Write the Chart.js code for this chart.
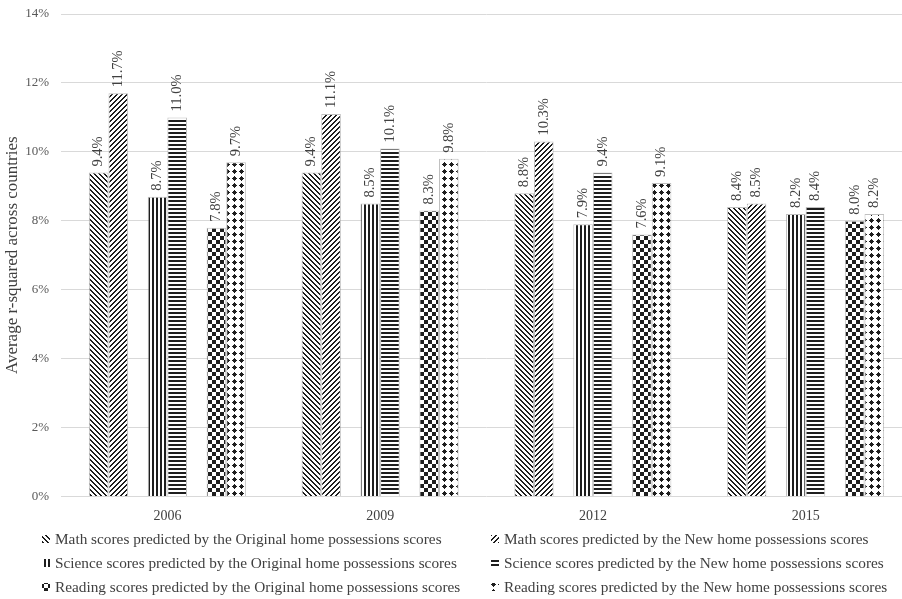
<!DOCTYPE html>
<html>
<head>
<meta charset="utf-8">
<script src="https://cdn.jsdelivr.net/npm/chart.js@4.4.1/dist/chart.umd.min.js"></script>
<style>
  html, body { margin: 0; padding: 0; background: #fff; overflow: hidden; width: 902px; height: 599px; }
  canvas { display: block; }
</style>
</head>
<body>
<canvas id="chart" width="912" height="599"></canvas>
<script>
// PISA cycles on the category axis
const years = ['2006', '2009', '2012', '2015'];

// Average r-squared (%) per cycle
const mathOriginal    = [9.4, 9.4, 8.8, 8.4];
const mathNew         = [11.7, 11.1, 10.3, 8.5];
const scienceOriginal = [8.7, 8.5, 7.9, 8.2];
const scienceNew      = [11.0, 10.1, 9.4, 8.4];
const readingOriginal = [7.8, 8.3, 7.6, 8.0];
const readingNew      = [9.7, 9.8, 9.1, 8.2];

// Value axis ticks (%)
const yTickValues = [0, 2, 4, 6, 8, 10, 12, 14];

const seriesNames = [
  'Math scores predicted by the Original home possessions scores',
  'Math scores predicted by the New home possessions scores',
  'Science scores predicted by the Original home possessions scores',
  'Science scores predicted by the New home possessions scores',
  'Reading scores predicted by the Original home possessions scores',
  'Reading scores predicted by the New home possessions scores'
];

const FONT = '"Liberation Serif", "Times New Roman", serif';
const INK = '#1e1e1e';
const canvas = document.getElementById('chart');
const mainCtx = canvas.getContext('2d');

// Builds a repeating monochrome fill from a per-pixel rule
function makePattern(w, h, isInk) {
  const t = document.createElement('canvas');
  t.width = w; t.height = h;
  const g = t.getContext('2d');
  g.fillStyle = '#ffffff';
  g.fillRect(0, 0, w, h);
  g.fillStyle = INK;
  for (let y = 0; y < h; y++) {
    for (let x = 0; x < w; x++) {
      if (isInk(x, y)) g.fillRect(x, y, 1, 1);
    }
  }
  return mainCtx.createPattern(t, 'repeat');
}

const fills = {
  downDiag: makePattern(5, 5, (x, y) => ((x - y + 10) % 5) < 2),
  upDiag:   makePattern(5, 5, (x, y) => ((x + y) % 5) < 2),
  vertical: makePattern(4, 4, (x, y) => (x % 4) < 2),
  horizontal: makePattern(4, 4, (x, y) => (y % 4) < 2),
  checker:  makePattern(8, 8, (x, y) => ((Math.floor(x / 4) + Math.floor(y / 4)) % 2) === 0),
  dots:     makePattern(7, 7, (x, y) => (Math.abs(x - 3) + Math.abs(y - 3)) <= 2)
};

function series(label, data, fill) {
  return {
    label, data,
    backgroundColor: fill,
    borderColor: 'rgba(140,140,140,0.55)',
    borderWidth: 1,
    isSeries: true
  };
}
// Empty slot that separates the subject pairs inside each year
function spacer() {
  return { label: '', data: years.map(() => null), backgroundColor: 'rgba(0,0,0,0)', isSeries: false };
}

const datasets = [
  series(seriesNames[0], mathOriginal, fills.downDiag),
  series(seriesNames[1], mathNew, fills.upDiag),
  spacer(),
  series(seriesNames[2], scienceOriginal, fills.vertical),
  series(seriesNames[3], scienceNew, fills.horizontal),
  spacer(),
  series(seriesNames[4], readingOriginal, fills.checker),
  series(seriesNames[5], readingNew, fills.dots)
];

// Vertical value labels just above each bar
const valueLabels = {
  id: 'valueLabels',
  afterDatasetsDraw(chart) {
    const ctx = chart.ctx;
    ctx.save();
    ctx.font = '14.5px ' + FONT;
    ctx.fillStyle = '#404040';
    ctx.textAlign = 'left';
    ctx.textBaseline = 'middle';
    chart.data.datasets.forEach((ds, i) => {
      if (!ds.isSeries) return;
      chart.getDatasetMeta(i).data.forEach((bar, j) => {
        const v = ds.data[j];
        if (v == null) return;
        ctx.save();
        ctx.translate(bar.x, bar.y - 6);
        ctx.rotate(-Math.PI / 2);
        ctx.fillText(v.toFixed(1) + '%', 0, 0);
        ctx.restore();
      });
    });
    ctx.restore();
  }
};

// Two-column legend under the category axis
const patternLegend = {
  id: 'patternLegend',
  afterDraw(chart) {
    const ctx = chart.ctx;
    const colX = [42, 491];
    const rowY = [539, 563, 587];
    const box = 8;
    ctx.save();
    ctx.font = '15.3px ' + FONT;
    ctx.textBaseline = 'middle';
    ctx.textAlign = 'left';
    const items = chart.data.datasets.filter(d => d.isSeries);
    items.forEach((ds, i) => {
      const x = colX[i % 2];
      const y = rowY[Math.floor(i / 2)];
      ctx.fillStyle = ds.backgroundColor;
      ctx.fillRect(x, y - box / 2, box, box);
      ctx.fillStyle = '#404040';
      ctx.fillText(ds.label, x + box + 5, y + 1);
    });
    ctx.restore();
  }
};

new Chart(canvas, {
  type: 'bar',
  data: { labels: years, datasets },
  options: {
    responsive: false,
    animation: false,
    events: [],
    layout: { padding: { top: 14, right: 0, bottom: 72.5, left: 0 } },
    datasets: { bar: { categoryPercentage: 0.738, barPercentage: 1.0 } },
    plugins: { legend: { display: false }, tooltip: { enabled: false } },
    scales: {
      x: {
        grid: { display: false, drawTicks: false },
        border: { display: false },
        ticks: { font: { family: FONT, size: 14 }, color: '#404040', padding: 11 },
        afterFit(scale) { scale.height = 30; scale.paddingLeft = 0; scale.paddingRight = 0; }
      },
      y: {
        min: 0,
        max: 14,
        afterBuildTicks(scale) { scale.ticks = yTickValues.map(v => ({ value: v })); },
        grid: { color: '#d9d9d9', lineWidth: 1, drawTicks: false },
        border: { display: false },
        ticks: { font: { family: FONT, size: 13 }, color: '#595959', padding: 12, callback: v => v + '%' },
        title: {
          display: true,
          text: 'Average r-squared across countries',
          font: { family: FONT, size: 17 },
          color: '#404040',
          padding: { top: 2, bottom: 0 }
        },
        afterFit(scale) { scale.width = 61; scale.paddingTop = 0; scale.paddingBottom = 0; }
      }
    }
  },
  plugins: [valueLabels, patternLegend]
});
</script>
</body>
</html>
